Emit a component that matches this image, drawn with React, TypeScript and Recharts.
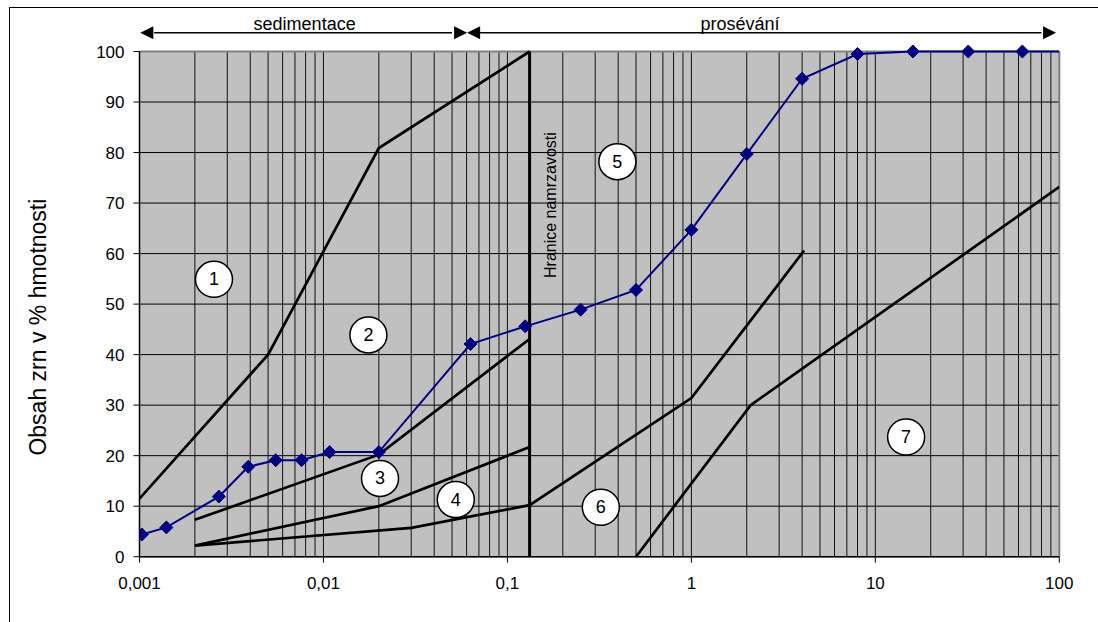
import {
  CartesianGrid,
  ComposedChart,
  Line,
  ReferenceDot,
  ReferenceLine,
  Scatter,
  XAxis,
  YAxis,
} from "recharts";

// grain size (mm) and passing (%) of the measured sample
const sampleSize = [0.00103, 0.0014, 0.0027, 0.0039, 0.0055, 0.0076, 0.0108, 0.02, 0.063, 0.125, 0.25, 0.5, 1, 2, 4, 8, 16, 32, 63, 100];
const samplePassing = [4.4, 5.8, 11.9, 17.8, 19.1, 19.1, 20.7, 20.7, 42.1, 45.6, 48.9, 52.8, 64.7, 79.7, 94.6, 99.5, 100, 100, 100, 100];

// zone boundary curves
const lineAx = [0.001, 0.005, 0.02, 0.132];
const lineAy = [11.5, 40, 80.9, 100];
const lineBx = [0.002, 0.02, 0.132];
const lineBy = [7.3, 20.2, 43.1];
const lineCx = [0.002, 0.02, 0.132];
const lineCy = [2.2, 10, 21.7];
const lineDx = [0.002, 0.03, 0.132, 1, 4.1];
const lineDy = [2.2, 5.7, 10.2, 31.4, 60.6];
const lineEx = [0.5, 2.1, 100];
const lineEy = [0, 30, 73.2];
const frostX = [0.132, 0.132];
const frostY = [0, 100];

// zone numbers
const zoneNames = ["1", "2", "3", "4", "5", "6", "7"];
const zoneX = [0.00254, 0.01755, 0.0203, 0.0524, 0.396, 0.322, 14.7];
const zoneY = [54.9, 43.9, 15.5, 11.3, 78.2, 9.8, 23.7];

const xTicks = [0.001, 0.01, 0.1, 1, 10, 100];
const yTicks = [0, 10, 20, 30, 40, 50, 60, 70, 80, 90, 100];
const decades = [0.001, 0.01, 0.1, 1, 10];
const minorX = decades.flatMap((d) =>
  [1, 2, 3, 4, 5, 6, 7, 8, 9].map((m) => +(d * m).toPrecision(3)).filter((v) => v > 0.001)
);

const zip = (xs: number[], ys: number[]) => xs.map((x, i) => ({ x, y: ys[i] }));

const sampleData = zip(sampleSize, samplePassing);
const zoneData = zoneX.map((x, i) => ({ x, y: zoneY[i], name: zoneNames[i] }));
const boundaries = [
  zip(lineAx, lineAy),
  zip(lineBx, lineBy),
  zip(lineCx, lineCy),
  zip(lineDx, lineDy),
  zip(lineEx, lineEy),
];

const FONT = "'Liberation Sans', Arial, sans-serif";

const Diamond = (props: any) => {
  const { cx, cy, index } = props;
  if (index === sampleData.length - 1 || cx == null) return null;
  const r = 6.5;
  return (
    <polygon
      key={`d${index}`}
      points={`${cx},${cy - r} ${cx + r},${cy} ${cx},${cy + r} ${cx - r},${cy}`}
      fill="#000080"
      stroke="#000080"
    />
  );
};

const ZoneBubble = (props: any) => {
  const { cx, cy, payload } = props;
  return (
    <g>
      <ellipse cx={cx} cy={cy} rx={18.5} ry={18} fill="#fff" stroke="#000" strokeWidth={1.5} />
      <text x={cx} y={cy} textAnchor="middle" dominantBaseline="central" fontSize={18} fontFamily={FONT} fill="#000">
        {payload.name}
      </text>
    </g>
  );
};

const arrowHead = (dir: 1 | -1) => (props: any) => {
  const { cx, cy } = props;
  return (
    <polygon
      points={`${cx},${cy} ${cx - dir * 13},${cy - 6.5} ${cx - dir * 13},${cy + 6.5}`}
      fill="#000"
    />
  );
};

const textShape = (txt: string, size: number, rotate = 0) => (props: any) => {
  const { cx, cy } = props;
  return (
    <text
      x={cx}
      y={cy}
      textAnchor="middle"
      dominantBaseline="central"
      fontSize={size}
      fontFamily={FONT}
      fill="#000"
      transform={rotate ? `rotate(${rotate} ${cx} ${cy})` : undefined}
    >
      {txt}
    </text>
  );
};

const ARROW_Y = 103.7;
const ARROW_TEXT_Y = 105.4;

export default function App() {
  return (
    <div style={{ position: "absolute", left: 0, top: 0, width: 1098, height: 622, overflow: "hidden", background: "#fff" }}>
      <div
        style={{
          position: "absolute",
          left: 9,
          top: 7,
          width: 1100,
          height: 630,
          borderTop: "1.5px solid #000",
          borderLeft: "1px solid #000",
        }}
      />
      <ComposedChart
        width={1098}
        height={622}
        margin={{ top: 51.5, right: 38.7, left: 79.5, bottom: 35.3 }}
        style={{ position: "absolute", left: 0, top: 0, fontFamily: FONT }}
      >
        <CartesianGrid vertical={false} stroke="#000" strokeWidth={1} fill="#c0c0c0" fillOpacity={1} />
        <XAxis
          dataKey="x"
          type="number"
          scale="log"
          domain={[0.001, 100]}
          allowDataOverflow
          ticks={xTicks}
          interval={0}
          height={30}
          tickFormatter={(v) => String(v).replace(".", ",")}
          tick={{ fill: "#000", fontSize: 17, fontFamily: FONT }}
          tickSize={6}
          tickMargin={14}
          axisLine={{ stroke: "#000", strokeWidth: 1.5 }}
          tickLine={{ stroke: "#000" }}
        />
        <YAxis
          dataKey="y"
          type="number"
          domain={[0, 100]}
          ticks={yTicks}
          interval={0}
          width={60}
          tick={{ fill: "#000", fontSize: 17, fontFamily: FONT }}
          tickSize={6}
          tickMargin={9}
          axisLine={{ stroke: "#000", strokeWidth: 1.5 }}
          tickLine={{ stroke: "#000" }}
          label={(p: any) => {
            const vb = p.viewBox;
            const x = vb.x - 41.5;
            const y = vb.y + vb.height / 2 + 23;
            return (
              <text
                x={x}
                y={y}
                textAnchor="middle"
                dominantBaseline="central"
                fontSize={23}
                fontFamily={FONT}
                fill="#000"
                transform={`rotate(-90 ${x} ${y})`}
              >
                Obsah zrn v % hmotnosti
              </text>
            );
          }}
        />

        {minorX.map((v) => (
          <ReferenceLine key={`g${v}`} x={v} stroke="#111" strokeWidth={1} ifOverflow="visible" />
        ))}
        <ReferenceLine y={100} stroke="#808080" strokeWidth={2} />
        <ReferenceLine x={100} stroke="#808080" strokeWidth={2} />

        {boundaries.map((d, i) => (
          <Line
            key={`b${i}`}
            data={d}
            dataKey="y"
            type="linear"
            stroke="#000"
            strokeWidth={2.7}
            dot={false}
            activeDot={false}
            isAnimationActive={false}
          />
        ))}
        <Line
          data={zip(frostX, frostY)}
          dataKey="y"
          type="linear"
          stroke="#000"
          strokeWidth={3}
          dot={false}
          activeDot={false}
          isAnimationActive={false}
        />
        <Line
          data={sampleData}
          dataKey="y"
          type="linear"
          stroke="#000080"
          strokeWidth={2}
          dot={Diamond}
          activeDot={false}
          isAnimationActive={false}
        />
        <Scatter data={zoneData} dataKey="y" shape={ZoneBubble} isAnimationActive={false} />

        <ReferenceDot x={0.171} y={69.6} r={0} ifOverflow="visible" shape={textShape("Hranice namrzavosti", 16, -90)} />

        <ReferenceLine
          segment={[{ x: 0.0012, y: ARROW_Y }, { x: 0.05, y: ARROW_Y }]}
          stroke="#000"
          strokeWidth={1.5}
          ifOverflow="visible"
        />
        <ReferenceLine
          segment={[{ x: 0.07, y: ARROW_Y }, { x: 80, y: ARROW_Y }]}
          stroke="#000"
          strokeWidth={1.5}
          ifOverflow="visible"
        />
        <ReferenceDot x={0.00101} y={ARROW_Y} ifOverflow="visible" shape={arrowHead(-1)} />
        <ReferenceDot x={0.0604} y={ARROW_Y} ifOverflow="visible" shape={arrowHead(1)} />
        <ReferenceDot x={0.0604} y={ARROW_Y} ifOverflow="visible" shape={arrowHead(-1)} />
        <ReferenceDot x={96} y={ARROW_Y} ifOverflow="visible" shape={arrowHead(1)} />
        <ReferenceDot x={0.0079} y={ARROW_TEXT_Y} ifOverflow="visible" shape={textShape("sedimentace", 18)} />
        <ReferenceDot x={1.84} y={ARROW_TEXT_Y} ifOverflow="visible" shape={textShape("prosévání", 18)} />
      </ComposedChart>
    </div>
  );
}
